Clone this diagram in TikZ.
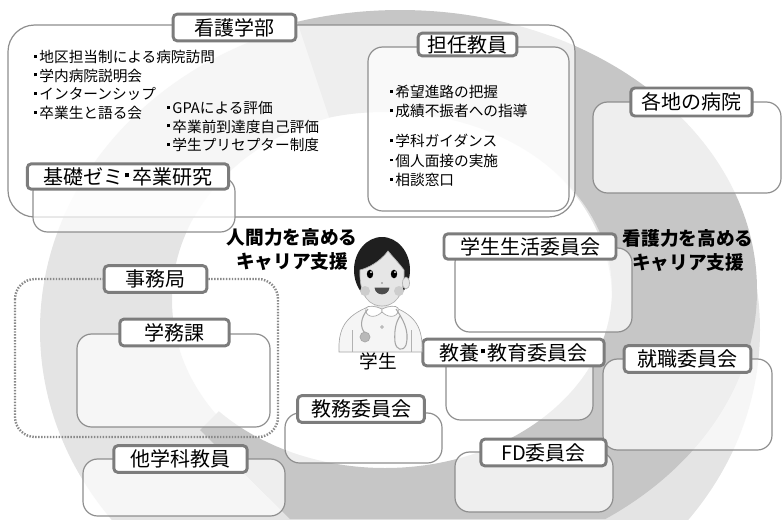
\documentclass[tikz,border=0pt]{standalone}
\usepackage{fontspec}
\setmainfont{Noto Sans CJK JP}
\usetikzlibrary{positioning}
\definecolor{RingLight}{HTML}{E4E4E4}
\definecolor{RingDark}{HTML}{C6C6C6}
\definecolor{Frame}{HTML}{8E8E8E}
\definecolor{TagLine}{HTML}{7C7C7C}
\definecolor{Skin}{HTML}{E6E6E6}
\definecolor{Cheek}{HTML}{CDCDCD}
\newcommand{\sqdot}{\hspace{0.08em}\rule[0.33em]{0.2em}{0.2em}\hspace{0.14em}}

\begin{document}
\begin{tikzpicture}[x=0.75pt,y=-0.75pt,
  panel/.style={draw=Frame,line width=0.9pt,fill=white,fill opacity=.7,rounded corners=11pt},
  tag/.style={draw=TagLine,line width=2.2pt,fill=white,rounded corners=3pt,inner sep=0pt,font=\fontsize{15}{15}\selectfont},
  items/.style={align=left,anchor=north west,inner sep=0pt,font=\fontsize{11}{14}\selectfont},
  slogan/.style={align=center,inner sep=0pt,font=\bfseries\fontsize{14}{18}\selectfont}]
  \useasboundingbox (0,0) rectangle (783,519);

  % two swooshes behind everything
  \begin{scope}
    \clip (0,0) rectangle (783,519);
    \fill[RingLight,even odd rule] (400,330) ellipse [x radius=360,y radius=317] (392,300) ellipse [x radius=220,y radius=190];
    \begin{scope}
      \clip (290,0) -- (783,0) -- (783,519) -- (290,519) -- (200,430) -- (330,300) -- (330,120) -- cycle;
      \fill[RingDark,even odd rule] (400,290) ellipse [x radius=357,y radius=280] (385,290) ellipse [x radius=227,y radius=178];
    \end{scope}
  \end{scope}

  % frames
  \draw[panel,rounded corners=20pt] (8,25) rectangle (575,217);
  \draw[panel] (368,47) rectangle (569,211);
  \draw[panel] (33,177) rectangle (235,232);
  \draw[panel] (593,102) rectangle (781,193);
  \draw[panel] (455,248) rectangle (632,332);
  \draw[TagLine!90,line width=1.8pt,dash pattern=on 1.1pt off 1.1pt,rounded corners=15pt] (15,279) rectangle (278,437);
  \draw[panel] (77,334) rectangle (270,427);
  \draw[panel] (83,459) rectangle (285,516);
  \draw[panel] (285,413) rectangle (442,463);
  \draw[panel] (446,352) rectangle (593,420);
  \draw[panel] (603,359) rectangle (772,450);
  \draw[panel] (455,452) rectangle (613,512);

  % headings
  \node[tag,minimum width=92pt,minimum height=20pt] (kango) at (234.5,27.5) {看護学部};
  \node[tag,minimum width=74pt,minimum height=17pt] (tannin) at (467.5,44.5) {担任教員};
  \node[tag,minimum width=91pt,minimum height=21pt] (kakuchi) at (691.5,102) {各地の病院};
  \node[tag,minimum width=129pt,minimum height=19pt] (seikatsu) at (530,246.5) {学生生活委員会};
  \node[tag,minimum width=151pt,minimum height=19pt] (kiso) at (128,176.5) {基礎ゼミ\sqdot 卒業研究};
  \node[tag,minimum width=77pt,minimum height=20pt] (jimu) at (155.5,279) {事務局};
  \node[tag,minimum width=82pt,minimum height=20pt] (gakumu) at (174.5,332.5) {学務課};
  \node[tag,minimum width=100pt,minimum height=20pt] (tagakka) at (180.5,459) {他学科教員};
  \node[tag,minimum width=95pt,minimum height=20pt] (kyomu) at (361,409) {教務委員会};
  \node[tag,minimum width=136pt,minimum height=20pt] (kyoyo) at (513.5,352.5) {教養\sqdot 教育委員会};
  \node[tag,minimum width=95pt,minimum height=20pt] (shushoku) at (687.5,359) {就職委員会};
  \node[tag,minimum width=94pt,minimum height=20pt] (fd) at (543.5,452.5) {FD委員会};

  % item lists
  \node[items] (kangoList) at (33,50) {\sqdot 地区担当制による病院訪問\\\sqdot 学内病院説明会\\\sqdot インターンシップ\\\sqdot 卒業生と語る会};
  \node[items] (gpaList) at (166,101) {\sqdot GPAによる評価\\\sqdot 卒業前到達度自己評価\\\sqdot 学生プリセプター制度};
  \node[items,font=\fontsize{11}{14.5}\selectfont] (tanninList) at (389,85) {\sqdot 希望進路の把握\\\sqdot 成績不振者への指導\\[8pt]\sqdot 学科ガイダンス\\\sqdot 個人面接の実施\\\sqdot 相談窓口};

  % slogans
  \node[slogan] (ningenryoku) at (292,250) {人間力を高める\\キャリア支援};
  \node[slogan] (kangoryoku) at (688,251) {看護力を高める\\キャリア支援};

  % the student
  \begin{scope}[line width=0.5pt]
    \filldraw[fill=black!4,draw=gray!70] (339,352) .. controls (338,328) and (346,316) .. (368,307) -- (394,307) .. controls (416,316) and (423,328) .. (422,352) -- cycle;
    \draw[gray!60] (352,330) -- (352,352) (411,330) -- (411,352);
    \fill[Skin] (374,296) rectangle (389,309);
    \fill[black!88] (382,270) ellipse [x radius=28,y radius=33];
    \filldraw[fill=Skin,draw=gray!60] (360,270) .. controls (359,298) and (371,306) .. (382,306) .. controls (393,306) and (405,298) .. (404,270) .. controls (398,262) and (392,256) .. (388,251) .. controls (380,262) and (368,268) .. (360,270) -- cycle;
    \filldraw[fill=Skin,draw=gray!60] (406,283) ellipse [x radius=3.5,y radius=6];
    \fill[Cheek] (365,291) circle [radius=5] (399,291) circle [radius=5];
    \fill[black] (370,274) ellipse [x radius=3.2,y radius=4.3] (394,274) ellipse [x radius=3.2,y radius=4.3];
    \fill[white] (371,272) circle [radius=1] (395,272) circle [radius=1];
    \fill[gray] (382,283) circle [radius=.8];
    \filldraw[fill=black!70,draw=black!70] (375,288) .. controls (376,296) and (388,296) .. (389,288) -- cycle;
    \filldraw[fill=white,draw=gray!70] (382,309) .. controls (376,306) and (368,305) .. (366,308) .. controls (364,316) and (374,320) .. (382,312) -- cycle;
    \filldraw[fill=white,draw=gray!70] (382,309) .. controls (388,306) and (396,305) .. (398,308) .. controls (400,316) and (390,320) .. (382,312) -- cycle;
    \draw[gray!70,line width=0.8pt] (368,309) .. controls (360,318) and (360,328) .. (365,333);
    \filldraw[fill=gray!55,draw=gray!70] (365,337) circle [radius=5];
    \draw[gray!70,line width=0.8pt] (396,309) .. controls (402,318) and (410,330) .. (406,345) .. controls (403,352) and (396,350) .. (395,342) .. controls (394,330) and (396,322) .. (400,316);
    \draw[gray!70] (382,327) circle [radius=1.3];
  \end{scope}
  \node[font=\fontsize{14}{14}\selectfont,inner sep=0pt] (gakusei) at (378,361) {学生};
\end{tikzpicture}
\end{document}
